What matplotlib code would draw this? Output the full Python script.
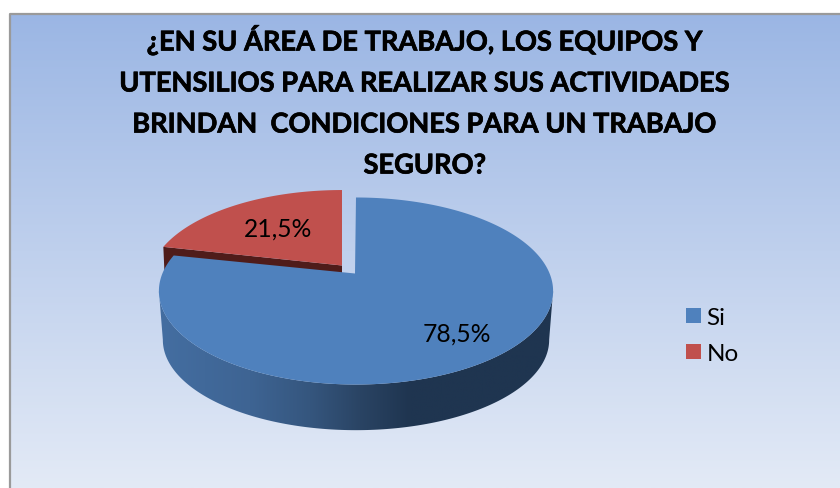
import numpy as np
import matplotlib.pyplot as plt
import matplotlib.patheffects as pe
from matplotlib.patches import Patch, Polygon

title = "¿EN SU ÁREA DE TRABAJO, LOS EQUIPOS Y\nUTENSILIOS PARA REALIZAR SUS ACTIVIDADES\nBRINDAN  CONDICIONES PARA UN TRABAJO\nSEGURO?"
categories = ["Si", "No"]
values = [78.5, 21.5]
labels = ["78,5%", "21,5%"]
colors = ["#4F81BD", "#C0504D"]

plt.rcParams['font.family'] = ['Lato', 'DejaVu Sans']

# perspective of the pie, in pixels of the picture
K = 0.1765
R_X = 194
R_Y = 90.6


def project(theta, cx, cy, scale=1.0, scale_x=None):
    # circle -> ellipse, the far side looks smaller
    t = np.radians(theta)
    u, v = np.cos(t), np.sin(t)
    d = 1 + K * v
    sx = scale if scale_x is None else scale_x
    return cx + sx * R_X * u / d, cy - scale * R_Y * v / d


fig = plt.figure(figsize=(8.4, 4.89), dpi=100, facecolor='white')
ax = fig.add_axes([0, 0, 1, 1])

# background
grad = np.linspace(0, 1, 256).reshape(-1, 1, 1)
top_c = np.array([155, 182, 228]) / 255
bot_c = np.array([227, 234, 246]) / 255
ax.imshow(top_c + (bot_c - top_c) * grad, extent=[10, 840, 489, 15], aspect='auto', zorder=0)
ax.plot([10, 10, 840], [489, 15, 15], color='#9A9A9A', lw=1.6, zorder=1)

# slice angles, clockwise from the top
pct = np.array(values) / sum(values)
edges = 90 - 360 * np.concatenate([[0], np.cumsum(pct)])

blue_c = (356, 275.5)
blue_apex = (355, 274.5)
blue_low = (356, 325)
red_c = (342, 266.5)

# red slice: cut face, then top
th = np.linspace(edges[1], edges[2], 80)
rx, ry = project(th, *red_c, 0.98)
tip = (rx[0], ry[0])
ax.add_patch(Polygon([red_c, tip, (tip[0] + 2, tip[1] + 46), (red_c[0], red_c[1] + 46)],
                     fc='#4F1C1A', ec='none', zorder=2))
ax.fill(np.r_[red_c[0], rx], np.r_[red_c[1], ry], color=colors[1], lw=0, zorder=3)

# blue slice: wall with gradient, then top
# wall only between the two silhouette angles, otherwise the outline folds
th = np.linspace(-170, -10, 200)
wx, wy = project(th, *blue_c)
lx, ly = project(th, *blue_low, 0.965, 0.98)
wall = Polygon(np.c_[np.r_[wx, lx[::-1]], np.r_[wy, ly[::-1]]], fc='none', ec='none', zorder=4)
ax.add_patch(wall)
pos = np.array([160, 250, 310, 360, 410, 560])
shade = np.array([[68, 110, 161], [62, 100, 147], [53, 86, 126], [42, 68, 100], [31, 53, 80], [31, 53, 80]]) / 255
xs = np.linspace(155, 565, 400)
strip = np.stack([np.interp(xs, pos, shade[:, i]) for i in range(3)], axis=-1)[None, :, :]
im = ax.imshow(strip, extent=[155, 565, 435, 280], aspect='auto', zorder=4)
im.set_clip_path(wall)

th = np.linspace(edges[0], edges[1], 300)
bx, by = project(th, *blue_c)
ax.fill(np.r_[blue_apex[0], bx], np.r_[blue_apex[1], by], color=colors[0], lw=0, zorder=5)

ax.text(456.5, 334, labels[0], fontsize=17.7, ha='center', va='center', color='black', zorder=6)
ax.text(278.5, 229, labels[1], fontsize=17.7, ha='center', va='center', color='black', zorder=6)

ax.text(425, 102.5, title, fontsize=19.6, fontweight='bold', ha='center', va='center',
        linespacing=1.85, color='black', zorder=6,
        path_effects=[pe.withStroke(linewidth=0.5, foreground='black')])

handles = [Patch(fc=c, ec='none') for c in colors]
ax.legend(handles, categories, loc='center left', bbox_to_anchor=(686 / 840, 1 - 336.5 / 489),
          frameon=False, fontsize=17.5, handlelength=0.62, handleheight=0.62,
          handletextpad=0.22, labelspacing=0.62, borderpad=0, borderaxespad=0)

ax.set_xlim(0, 840)
ax.set_ylim(489, 0)
ax.axis('off')

fig.savefig('out.png', dpi=100)
